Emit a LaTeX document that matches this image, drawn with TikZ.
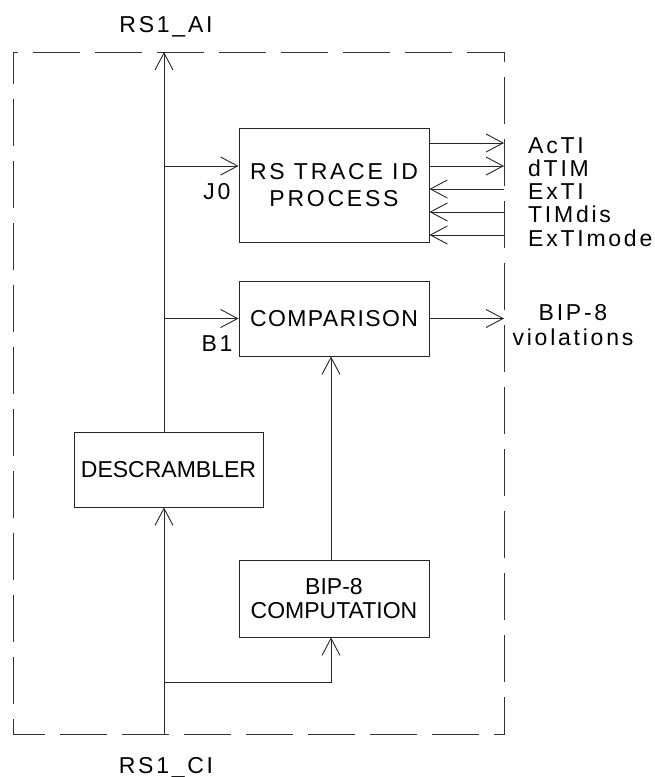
\documentclass[tikz,border=0pt]{standalone}
\usepackage{fontspec}
\setmainfont{Liberation Sans}
\newfontfamily\spacedfont[LetterSpace=12]{Liberation Sans}
\newfontfamily\halfspaced[LetterSpace=6]{Liberation Sans}
\usetikzlibrary{arrows.meta}
\begin{document}
\begin{tikzpicture}[x=1pt,y=-1pt,
  ln/.style={line width=0.9pt, draw=black!85},
  blk/.style={ln, draw, inner sep=0pt, align=center, font=\fontsize{23}{27}\selectfont},
  lbl/.style={inner sep=0pt, anchor=base, font=\spacedfont\fontsize{23}{26}\selectfont},
  arr/.style={ln, -{Straight Barb[length=17pt,width=18pt,line width=0.9pt]}},
  frame/.style={line width=0.9pt, draw=black!80, dash pattern=on 47pt off 15pt, dash phase=42pt}]
\useasboundingbox (0,0) rectangle (654,777);
% outer dashed frame
\draw[frame] (13,52) -- (504,52) -- (504,734) -- (13,734) -- cycle;
% blocks
\node[blk, minimum width=190pt, minimum height=114pt, font=\spacedfont\fontsize{23}{27}\selectfont] (trace) at (334,185) {RS TRACE ID\\PROCESS};
\node[blk, minimum width=190pt, minimum height=75pt, font=\halfspaced\fontsize{23}{27}\selectfont] (comp) at (334,318.5) {COMPARISON};
\node[blk, minimum width=190pt, minimum height=77pt, font=\fontsize{23}{24}\selectfont] (bip) at (334,598.5) {BIP-8\\COMPUTATION};
\node[blk, minimum width=189pt, minimum height=75pt] (desc) at (168.5,469.5) {DESCRAMBLER};
% coordinates
\coordinate (top) at (164,52);
\coordinate (bot) at (164,734);
\coordinate (br) at (164,682);
\coordinate (bx) at (331,682);
\coordinate (j0) at (164,166);
\coordinate (b1) at (164,318.5);
\coordinate (rx) at (504,0);
% main path
\draw[arr] (desc.north -| top) -- (top);
\draw[arr] (bot) -- (desc.south -| bot);
\draw[arr] (br) -- (bx) -- (bip.south -| bx);
\draw[arr] (bip.north -| bx) -- (comp.south -| bx);
\draw[arr] (j0) -- (trace.west |- j0);
\draw[arr] (b1) -- (comp.west |- b1);
\draw[arr] (comp.east) -- (comp.east -| rx);
% trace outputs / inputs
\coordinate (o1) at (504,143);
\coordinate (o2) at (504,166);
\coordinate (i1) at (504,189);
\coordinate (i2) at (504,212);
\coordinate (i3) at (504,235);
\draw[arr] (trace.east |- o1) -- (o1);
\draw[arr] (trace.east |- o2) -- (o2);
\draw[arr] (i1) -- (trace.east |- i1);
\draw[arr] (i2) -- (trace.east |- i2);
\draw[arr] (i3) -- (trace.east |- i3);
% labels
\node[lbl] (lai) at (166,32) {RS1\_AI};
\node[lbl] (lci) at (166,773) {RS1\_CI};
\node[lbl] (lj0) at (217,199) {J0};
\node[lbl] (lb1) at (217,351) {B1};
\node[lbl, anchor=base west] (lacti) at (528,153) {AcTI};
\node[lbl, anchor=base west] (ldtim) at (528,176.5) {dTIM};
\node[lbl, anchor=base west] (lexti) at (528,199.5) {ExTI};
\node[lbl, anchor=base west] (ltimdis) at (528,222.5) {TIMdis};
\node[lbl, anchor=base west] (lextimode) at (528,246) {ExTImode};
\node[lbl] (lbip) at (573,320) {BIP-8};
\node[lbl] (lviol) at (573,345) {violations};
\end{tikzpicture}
\end{document}
